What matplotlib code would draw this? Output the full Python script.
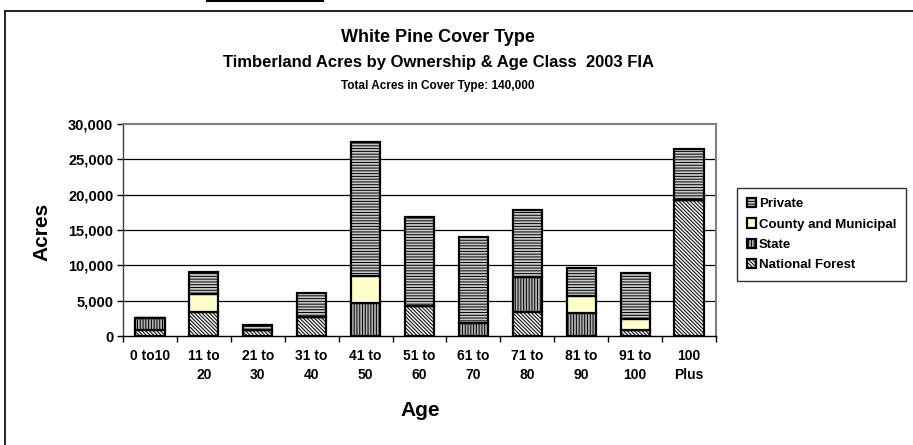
import matplotlib
matplotlib.use("Agg")
import matplotlib.pyplot as plt
import numpy as np
from matplotlib.patches import Rectangle
from matplotlib.lines import Line2D

plt.rcParams['font.family'] = ['Liberation Sans', 'DejaVu Sans']
plt.rcParams['hatch.linewidth'] = 0.7

categories = ["0 to10", "11 to\n20", "21 to\n30", "31 to\n40", "41 to\n50", "51 to\n60",
              "61 to\n70", "71 to\n80", "81 to\n90", "91 to\n100", "100\nPlus"]
national_forest = [800, 3400, 800, 2700, 0, 4200, 0, 3400, 0, 900, 19300]
state = [1700, 0, 0, 0, 4700, 0, 1900, 4900, 3200, 0, 0]
county = [0, 2500, 0, 0, 3800, 0, 0, 0, 2400, 1500, 0]
private = [0, 3100, 700, 3400, 18900, 12600, 12100, 9600, 4000, 6500, 7100]
yticks = [0, 5000, 10000, 15000, 20000, 25000, 30000]

W, H = 913, 445
fig = plt.figure(figsize=(W / 100, H / 100), dpi=100)

# outer chart frame and stray line at top
fig.add_artist(Rectangle((5 / W, -0.1), 1.2, 1 - 11 / H + 0.1, transform=fig.transFigure,
                         fill=False, edgecolor='black', linewidth=1.2))
fig.add_artist(Line2D([207 / W, 323 / W], [1 - 1 / H, 1 - 1 / H], transform=fig.transFigure,
                      color='black', linewidth=1.5))

ax = fig.add_axes([123 / W, 1 - 336 / H, (716 - 123) / W, (336 - 124) / H])

x = np.arange(len(categories))
nf = np.array(national_forest)
st = np.array(state)
co = np.array(county)
pr = np.array(private)
width = 0.54
kw = dict(width=width, edgecolor='black', linewidth=1.6, zorder=3)
b_nf = ax.bar(x, nf, facecolor='#f2f2f2', hatch='\\' * 9, label='National Forest', **kw)
b_st = ax.bar(x, st, bottom=nf, facecolor='#b0b0b0', hatch='||||||', label='State', **kw)
b_co = ax.bar(x, co, bottom=nf + st, facecolor='#ffffcc', label='County and Municipal', **kw)
b_pr = ax.bar(x, pr, bottom=nf + st + co, facecolor='#c8c8c8', hatch='------', label='Private', **kw)

ax.set_xlim(-0.5, len(categories) - 0.5)
ax.set_ylim(0, 30000)
ax.set_yticks(yticks)
ax.set_yticklabels([f"{v:,}" for v in yticks], fontsize=10.5, fontweight='bold')
ax.set_xticks(x)
ax.set_xticklabels(categories, fontsize=10, fontweight='bold', linespacing=1.5)
ax.tick_params(axis='x', length=0, pad=9)
ax.set_xticks(np.arange(-0.5, len(categories)), minor=True)
ax.tick_params(axis='x', which='minor', length=4, direction='out', width=1)
ax.tick_params(axis='y', length=4, direction='out', width=1, pad=3)

for v in yticks[1:-1]:
    ax.axhline(v, color='black', linewidth=0.9, zorder=1)

ax.spines['top'].set_color('#808080')
ax.spines['right'].set_color('#808080')
ax.spines['top'].set_linewidth(1.5)
ax.spines['right'].set_linewidth(1.5)
ax.spines['left'].set_color('#404040')
ax.spines['bottom'].set_color('black')
ax.spines['left'].set_linewidth(1)
ax.spines['bottom'].set_linewidth(1)

fig.text(438 / W, 1 - 38 / H, "White Pine Cover Type", ha='center', va='center',
         fontsize=13, fontweight='bold')
fig.text(438 / W, 1 - 62 / H, "Timberland Acres by Ownership & Age Class  2003 FIA",
         ha='center', va='center', fontsize=12, fontweight='bold')
fig.text(438 / W, 1 - 86 / H, "Total Acres in Cover Type: 140,000", ha='center', va='center',
         fontsize=8.5, fontweight='bold')
fig.text(42 / W, 1 - 232 / H, "Acres", ha='center', va='center', rotation=90,
         fontsize=15, fontweight='bold')
fig.text(420 / W, 1 - 411 / H, "Age", ha='center', va='center', fontsize=15, fontweight='bold')

handles = [b_pr, b_co, b_st, b_nf]
labels = ['Private', 'County and Municipal', 'State', 'National Forest']
leg = fig.legend(handles, labels, loc='upper left', bbox_to_anchor=(737 / W, 1 - 188 / H),
                 prop={'size': 9.5, 'weight': 'bold'}, frameon=True, fancybox=False,
                 edgecolor='black', handlelength=0.7, handleheight=0.7, handletextpad=0.2,
                 labelspacing=0.62, borderpad=0.75, borderaxespad=0)
leg.get_frame().set_linewidth(1.0)

fig.savefig("out.png", dpi=100)
